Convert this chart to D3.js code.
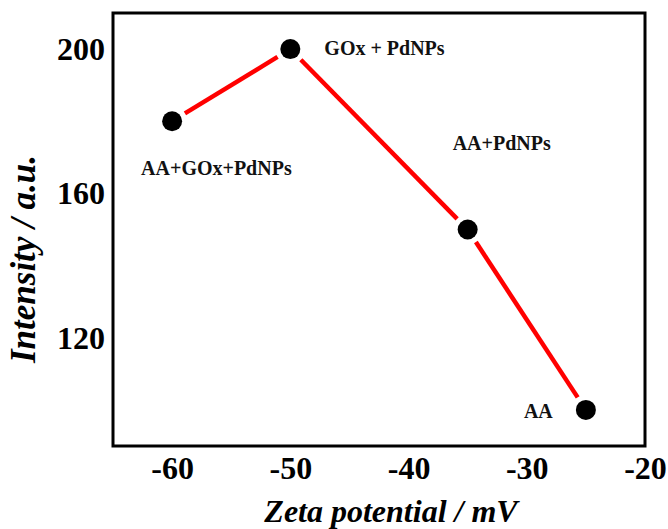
<!DOCTYPE html>
<html>
<head>
<meta charset="utf-8">
<script src="https://cdn.jsdelivr.net/npm/d3@7"></script>
<style>
  body { margin: 0; background: #fff; }
  svg { display: block; }
  text { font-family: 'Liberation Serif', 'Times New Roman', serif; font-weight: bold; }
</style>
</head>
<body>
<svg id="chart" width="668" height="529"></svg>
<script>
// zeta potential (mV) vs intensity (a.u.)
const zeta = [-60, -50, -35, -25]
const intensity = [180, 200, 150, 100]
const labels = ['AA+GOx+PdNPs', 'GOx + PdNPs', 'AA+PdNPs', 'AA']
const xTicks = [-60, -50, -40, -30, -20]
const yTicks = [120, 160, 200]

const svg = d3.select('#chart')
const margins = { top: 13, right: 23, bottom: 83, left: 113 }
const width = 668
const height = 529

const x = d3.scaleLinear().domain([-65, -20]).range([margins.left, width - margins.right])
const y = d3.scaleLinear().domain([90, 210]).range([height - margins.bottom, margins.top])

// plain hyphen for negatives, like the original
const fmt = d => String(d)

const xAxis = d3.axisBottom(x).tickValues(xTicks).tickSize(0).tickPadding(10).tickFormat(fmt)
const yAxis = d3.axisLeft(y).tickValues(yTicks).tickSize(0).tickPadding(8).tickFormat(fmt)

svg.append('g')
  .attr('transform', `translate(0, ${y(90)})`)
  .call(xAxis)
  .call(g => g.select('.domain').remove())
  .selectAll('text')
  .style('font-size', '32px')
  .attr('fill', '#000')

svg.append('g')
  .attr('transform', `translate(${x(-65)}, 0)`)
  .call(yAxis)
  .call(g => g.select('.domain').remove())
  .selectAll('text')
  .style('font-size', '32px')
  .attr('fill', '#000')

// frame
svg.append('rect')
  .attr('x', x(-65))
  .attr('y', y(210))
  .attr('width', x(-20) - x(-65))
  .attr('height', y(90) - y(210))
  .attr('fill', 'none')
  .attr('stroke', '#000')
  .attr('stroke-width', 3)

// line segments, trimmed a bit so they stop short of the markers
const pts = zeta.map((z, i) => [x(z), y(intensity[i])])
const gap = 15
for (let i = 0; i < pts.length - 1; i++) {
  const [x1, y1] = pts[i]
  const [x2, y2] = pts[i + 1]
  const len = Math.hypot(x2 - x1, y2 - y1)
  const ux = (x2 - x1) / len
  const uy = (y2 - y1) / len
  svg.append('line')
    .attr('x1', x1 + ux * gap)
    .attr('y1', y1 + uy * gap)
    .attr('x2', x2 - ux * gap)
    .attr('y2', y2 - uy * gap)
    .attr('stroke', '#ff0000')
    .attr('stroke-width', 4.5)
}

svg.selectAll('circle')
  .data(zeta)
  .join('circle')
  .attr('cx', d => x(d))
  .attr('cy', (d, i) => y(intensity[i]))
  .attr('r', 10)
  .attr('fill', '#000')

// point labels
const labelOffsets = [[-31, 54], [34, 6], [-15, -80], [-62, 8]]
svg.selectAll('.lbl')
  .data(labels)
  .join('text')
  .attr('class', 'lbl')
  .attr('x', (d, i) => x(zeta[i]) + labelOffsets[i][0])
  .attr('y', (d, i) => y(intensity[i]) + labelOffsets[i][1])
  .style('font-size', '20px')
  .attr('fill', '#111')
  .text(d => d)

svg.append('text')
  .attr('x', (x(-65) + x(-20)) / 2 + 12)
  .attr('y', 522)
  .attr('text-anchor', 'middle')
  .style('font-size', '32px')
  .style('font-style', 'italic')
  .text('Zeta potential / mV')

svg.append('text')
  .attr('transform', 'translate(35, 259) rotate(-90)')
  .attr('text-anchor', 'middle')
  .style('font-size', '35px')
  .style('font-style', 'italic')
  .text('Intensity / a.u.')
</script>
</body>
</html>
